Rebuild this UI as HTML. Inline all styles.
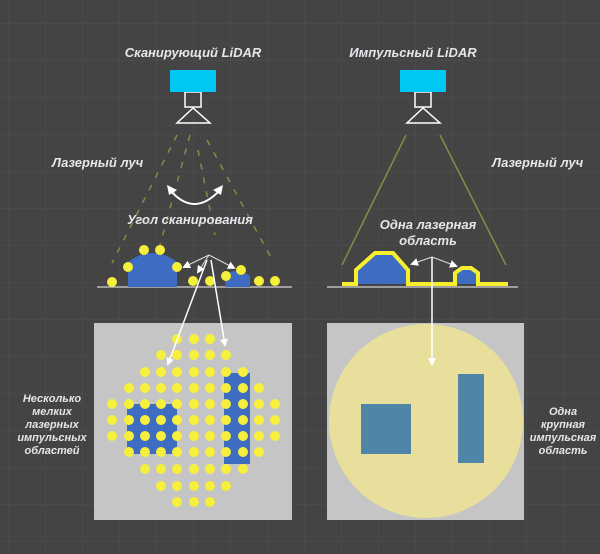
<!DOCTYPE html>
<html><head><meta charset="utf-8"><style>
html,body{margin:0;padding:0;width:600px;height:554px;overflow:hidden;background:#444444;}
svg{display:block}
text{font-family:"Liberation Sans",sans-serif;font-weight:bold;font-style:italic;fill:#e4e6ea;}
</style></head><body>
<svg width="600" height="554" viewBox="0 0 600 554" xmlns="http://www.w3.org/2000/svg">
<defs>
<pattern id="g" x="8" y="23" width="37" height="37" patternUnits="userSpaceOnUse">
<path d="M0 0H37M0 0V37" stroke="#4f4f4f" stroke-width="1" fill="none"/>
</pattern>
<marker id="ah" markerWidth="8" markerHeight="8" refX="6" refY="4" orient="auto" markerUnits="userSpaceOnUse">
<path d="M0 0L8 4L0 8z" fill="#fff"/>
</marker>
</defs>
<rect width="600" height="554" fill="#444"/>
<rect width="600" height="554" fill="url(#g)"/>

<text x="193" y="57" font-size="13" text-anchor="middle">Сканирующий LiDAR</text>
<text x="413" y="57" font-size="13" text-anchor="middle">Импульсный LiDAR</text>

<g stroke="#fff" stroke-width="1.5" fill="none">
<rect x="185" y="92" width="16" height="15"/>
<path d="M193 108L177 123H210Z"/>
<rect x="415" y="92" width="16" height="15"/>
<path d="M423 108L407 123H440Z"/>
</g>
<rect x="170" y="70" width="46" height="22" fill="#00c8f5"/>
<rect x="400" y="70" width="46" height="22" fill="#00c8f5"/>

<g stroke="#8f8748" stroke-width="1.5" stroke-dasharray="6,8" fill="none">
<line x1="177" y1="135" x2="112" y2="263"/>
<line x1="190" y1="135" x2="160" y2="245"/>
<line x1="198" y1="150" x2="215" y2="235"/>
<line x1="207" y1="140" x2="274" y2="263"/>
</g>
<g stroke="#8f8748" stroke-width="1.5" fill="none">
<line x1="406" y1="135" x2="342" y2="265"/>
<line x1="440" y1="135" x2="506" y2="265"/>
</g>

<path d="M170 190Q194 218 220 190" stroke="#fff" stroke-width="2" fill="none"/>
<path d="M167 185L177 190L169 195Z" fill="#fff"/>
<path d="M223 185L213 190L221 195Z" fill="#fff"/>

<text x="52" y="167" font-size="13">Лазерный луч</text>
<text x="492" y="167" font-size="13">Лазерный луч</text>
<text x="190" y="224" font-size="13" text-anchor="middle">Угол сканирования</text>
<text x="428" y="229" font-size="13" text-anchor="middle">Одна лазерная</text>
<text x="428" y="245" font-size="13" text-anchor="middle">область</text>

<line x1="97" y1="287" x2="292" y2="287" stroke="#bbb" stroke-width="1.5"/>
<line x1="327" y1="287" x2="518" y2="287" stroke="#bbb" stroke-width="1.5"/>

<path d="M128 287V262Q152 244 177 262V287Z" fill="#3e6cc2"/>
<path d="M225 287V276Q237 265 250 276V287Z" fill="#3e6cc2"/>
<g fill="#f4ef3a">
<circle cx="112" cy="282" r="5"/><circle cx="144" cy="250" r="5"/><circle cx="160" cy="250" r="5"/>
<circle cx="128" cy="267" r="5"/><circle cx="177" cy="267" r="5"/><circle cx="193" cy="281" r="5"/>
<circle cx="210" cy="281" r="5"/><circle cx="226" cy="276" r="5"/><circle cx="241" cy="270" r="5"/>
<circle cx="259" cy="281" r="5"/><circle cx="275" cy="281" r="5"/>
</g>
<g stroke="#ddd" stroke-width="1" fill="none">
<line x1="209" y1="255" x2="184" y2="267" marker-end="url(#ah)"/>
<line x1="209" y1="255" x2="198" y2="272" marker-end="url(#ah)"/>
<line x1="209" y1="255" x2="234" y2="268" marker-end="url(#ah)"/>
</g>

<path d="M342 284H356V270L375 253H393L408 270V284H455V273L462 268H471L478 273V284H508" stroke="#f7ef2e" stroke-width="4" fill="#3e6cc2" stroke-linejoin="miter"/>
<g stroke="#ddd" stroke-width="1" fill="none">
<line x1="432" y1="257" x2="412" y2="264" marker-end="url(#ah)"/>
<line x1="432" y1="257" x2="456" y2="266" marker-end="url(#ah)"/>
</g>

<rect x="94" y="323" width="198" height="197" fill="#c5c5c5"/>
<rect x="327" y="323" width="197" height="197" fill="#c5c5c5"/>
<circle cx="426" cy="421" r="97" fill="#e8df9c"/>
<rect x="361" y="404" width="50" height="50" fill="#4f86a8"/>
<rect x="458" y="374" width="26" height="89" fill="#4f86a8"/>
<line x1="432" y1="257" x2="432" y2="364" stroke="#fff" stroke-width="1.5" marker-end="url(#ah)"/>

<rect x="127" y="404" width="50" height="50" fill="#3e6cc2"/>
<rect x="224" y="373" width="26" height="91" fill="#3e6cc2"/>
<g fill="#f6f03c">
<circle cx="177" cy="339" r="5"/><circle cx="194" cy="339" r="5"/><circle cx="210" cy="339" r="5"/>
<circle cx="161" cy="355" r="5"/><circle cx="177" cy="355" r="5"/><circle cx="194" cy="355" r="5"/><circle cx="210" cy="355" r="5"/><circle cx="226" cy="355" r="5"/>
<circle cx="145" cy="372" r="5"/><circle cx="161" cy="372" r="5"/><circle cx="177" cy="372" r="5"/><circle cx="194" cy="372" r="5"/><circle cx="210" cy="372" r="5"/><circle cx="226" cy="372" r="5"/><circle cx="243" cy="372" r="5"/>
<circle cx="129" cy="388" r="5"/><circle cx="145" cy="388" r="5"/><circle cx="161" cy="388" r="5"/><circle cx="177" cy="388" r="5"/><circle cx="194" cy="388" r="5"/><circle cx="210" cy="388" r="5"/><circle cx="226" cy="388" r="5"/><circle cx="243" cy="388" r="5"/><circle cx="259" cy="388" r="5"/>
<circle cx="112" cy="404" r="5"/><circle cx="129" cy="404" r="5"/><circle cx="145" cy="404" r="5"/><circle cx="161" cy="404" r="5"/><circle cx="177" cy="404" r="5"/><circle cx="194" cy="404" r="5"/><circle cx="210" cy="404" r="5"/><circle cx="226" cy="404" r="5"/><circle cx="243" cy="404" r="5"/><circle cx="259" cy="404" r="5"/><circle cx="275" cy="404" r="5"/>
<circle cx="112" cy="420" r="5"/><circle cx="129" cy="420" r="5"/><circle cx="145" cy="420" r="5"/><circle cx="161" cy="420" r="5"/><circle cx="177" cy="420" r="5"/><circle cx="194" cy="420" r="5"/><circle cx="210" cy="420" r="5"/><circle cx="226" cy="420" r="5"/><circle cx="243" cy="420" r="5"/><circle cx="259" cy="420" r="5"/><circle cx="275" cy="420" r="5"/>
<circle cx="112" cy="436" r="5"/><circle cx="129" cy="436" r="5"/><circle cx="145" cy="436" r="5"/><circle cx="161" cy="436" r="5"/><circle cx="177" cy="436" r="5"/><circle cx="194" cy="436" r="5"/><circle cx="210" cy="436" r="5"/><circle cx="226" cy="436" r="5"/><circle cx="243" cy="436" r="5"/><circle cx="259" cy="436" r="5"/><circle cx="275" cy="436" r="5"/>
<circle cx="129" cy="452" r="5"/><circle cx="145" cy="452" r="5"/><circle cx="161" cy="452" r="5"/><circle cx="177" cy="452" r="5"/><circle cx="194" cy="452" r="5"/><circle cx="210" cy="452" r="5"/><circle cx="226" cy="452" r="5"/><circle cx="243" cy="452" r="5"/><circle cx="259" cy="452" r="5"/>
<circle cx="145" cy="469" r="5"/><circle cx="161" cy="469" r="5"/><circle cx="177" cy="469" r="5"/><circle cx="194" cy="469" r="5"/><circle cx="210" cy="469" r="5"/><circle cx="226" cy="469" r="5"/><circle cx="243" cy="469" r="5"/>
<circle cx="161" cy="486" r="5"/><circle cx="177" cy="486" r="5"/><circle cx="194" cy="486" r="5"/><circle cx="210" cy="486" r="5"/><circle cx="226" cy="486" r="5"/>
<circle cx="177" cy="502" r="5"/><circle cx="194" cy="502" r="5"/><circle cx="210" cy="502" r="5"/>
</g>

<g stroke="#fff" stroke-width="1.5" fill="none">
<line x1="207" y1="260" x2="168" y2="364" marker-end="url(#ah)"/>
<line x1="211" y1="260" x2="225" y2="345" marker-end="url(#ah)"/>
</g>

<g font-size="11" text-anchor="middle">
<text x="52" y="402">Несколько</text>
<text x="52" y="415">мелких</text>
<text x="52" y="428">лазерных</text>
<text x="52" y="441">импульсных</text>
<text x="52" y="454">областей</text>
<text x="563" y="415">Одна</text>
<text x="563" y="428">крупная</text>
<text x="563" y="441">импульсная</text>
<text x="563" y="454">область</text>
</g>
</svg>
</body></html>
